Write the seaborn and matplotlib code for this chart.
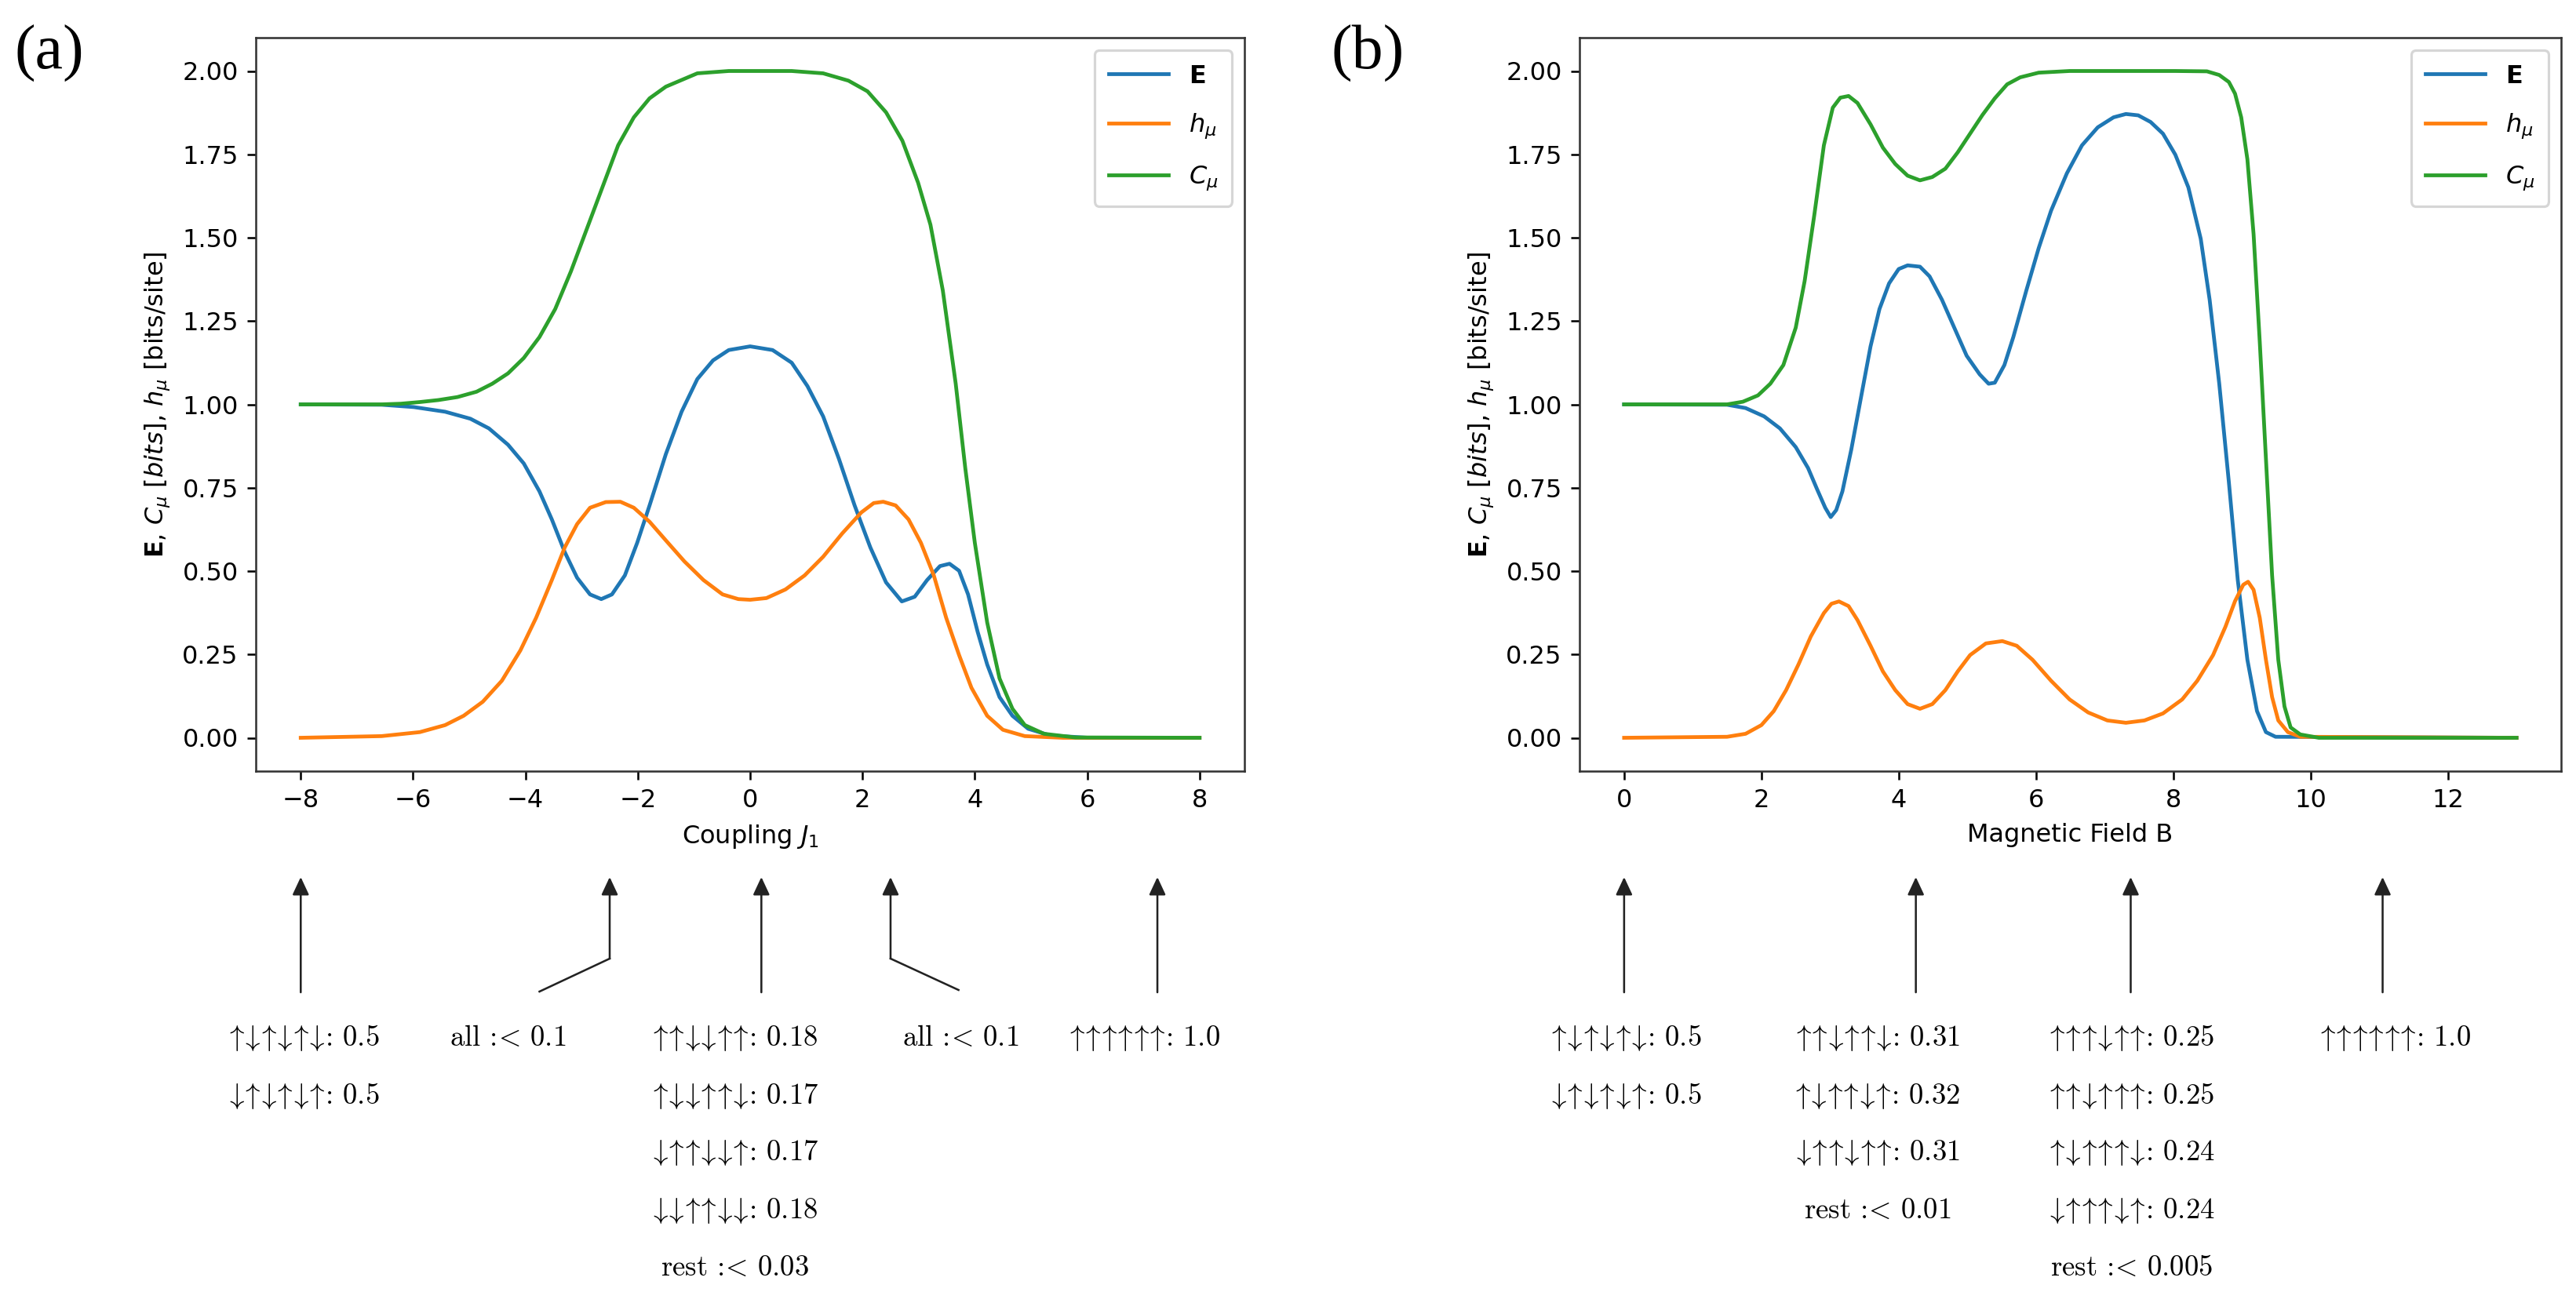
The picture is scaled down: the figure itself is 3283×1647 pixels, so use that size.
import numpy as np
import pandas as pd
import matplotlib
matplotlib.use("Agg")
import matplotlib.pyplot as plt
import seaborn as sns
from matplotlib import transforms
from matplotlib.patches import FancyArrowPatch
from matplotlib.lines import Line2D

# ---------------- data: panel (a) vs coupling J1 ----------------
a_C_x = [-8, -7.12, -6.56, -6.22, -5.88, -5.55, -5.21, -4.87, -4.59, -4.31, -4.03, -3.75, -3.47,
         -3.19, -2.91, -2.63, -2.35, -2.07, -1.79, -1.50, -0.94, -0.38, 0, 0.74, 1.30, 1.75, 2.09,
         2.42, 2.71, 2.99, 3.21, 3.43, 3.66, 3.83, 4.00, 4.22, 4.44, 4.67, 4.89, 5.23, 5.79, 8]
a_C_y = [1.0, 1.0, 1.0, 1.002, 1.007, 1.013, 1.022, 1.038, 1.062, 1.093, 1.139, 1.202, 1.286,
         1.399, 1.525, 1.651, 1.777, 1.861, 1.918, 1.953, 1.993, 2.0, 2.0, 2.0, 1.993, 1.971,
         1.939, 1.876, 1.791, 1.665, 1.539, 1.342, 1.062, 0.809, 0.585, 0.346, 0.178, 0.087,
         0.038, 0.012, 0.001, 0.0]

a_E_x = [-8, -6.56, -5.99, -5.43, -4.98, -4.65, -4.31, -4.03, -3.75, -3.53, -3.30, -3.08, -2.85,
         -2.65, -2.46, -2.23, -2.01, -1.79, -1.50, -1.22, -0.94, -0.66, -0.38, 0, 0.40, 0.74,
         1.02, 1.30, 1.58, 1.86, 2.14, 2.42, 2.70, 2.93, 3.15, 3.38, 3.55, 3.72, 3.88, 4.05, 4.22,
         4.44, 4.67, 4.95, 5.34, 6.02, 8]
a_E_y = [1.0, 0.999, 0.992, 0.978, 0.957, 0.928, 0.879, 0.823, 0.739, 0.655, 0.557, 0.480, 0.430,
         0.416, 0.430, 0.487, 0.585, 0.697, 0.851, 0.978, 1.076, 1.132, 1.163, 1.174, 1.163, 1.125,
         1.055, 0.964, 0.837, 0.697, 0.571, 0.466, 0.409, 0.423, 0.473, 0.515, 0.522, 0.501, 0.430,
         0.318, 0.220, 0.122, 0.066, 0.027, 0.007, 0.0, 0.0]

a_h_x = [-8, -6.56, -5.88, -5.43, -5.10, -4.76, -4.42, -4.09, -3.81, -3.53, -3.30, -3.08, -2.85,
         -2.57, -2.31, -2.07, -1.79, -1.50, -1.17, -0.83, -0.49, -0.21, 0, 0.29, 0.63, 0.97, 1.30,
         1.64, 1.98, 2.20, 2.37, 2.59, 2.82, 3.04, 3.27, 3.49, 3.72, 3.94, 4.22, 4.50, 4.89, 5.57, 8]
a_h_y = [0.0, 0.005, 0.017, 0.038, 0.066, 0.108, 0.171, 0.262, 0.360, 0.473, 0.571, 0.641, 0.690,
         0.707, 0.708, 0.690, 0.648, 0.592, 0.529, 0.473, 0.430, 0.416, 0.414, 0.419, 0.445, 0.487,
         0.543, 0.613, 0.676, 0.704, 0.708, 0.697, 0.655, 0.585, 0.487, 0.360, 0.248, 0.150, 0.066,
         0.024, 0.005, 0.0, 0.0]

# ---------------- data: panel (b) vs magnetic field B ----------------
b_C_x = [0, 1.50, 1.73, 1.95, 2.13, 2.32, 2.50, 2.63, 2.77, 2.91, 3.04, 3.15, 3.27, 3.40, 3.59,
         3.77, 3.95, 4.13, 4.31, 4.49, 4.68, 4.86, 5.04, 5.22, 5.40, 5.58, 5.77, 6.04, 6.49, 8.03,
         8.49, 8.67, 8.81, 8.90, 8.99, 9.08, 9.17, 9.26, 9.35, 9.44, 9.53, 9.62, 9.71, 9.85, 10.12,
         13]
b_C_y = [1.0, 1.0, 1.008, 1.027, 1.062, 1.118, 1.230, 1.370, 1.567, 1.777, 1.890, 1.920, 1.925,
         1.904, 1.840, 1.770, 1.721, 1.686, 1.672, 1.682, 1.707, 1.756, 1.812, 1.868, 1.918, 1.960,
         1.981, 1.995, 2.0, 2.0, 1.999, 1.988, 1.967, 1.932, 1.861, 1.735, 1.511, 1.188, 0.837,
         0.487, 0.234, 0.094, 0.031, 0.010, 0.0, 0.0]

b_E_x = [0, 1.50, 1.77, 2.04, 2.27, 2.50, 2.68, 2.81, 2.93, 3.01, 3.09, 3.18, 3.31, 3.45, 3.59,
         3.72, 3.86, 4.00, 4.13, 4.31, 4.45, 4.63, 4.81, 4.99, 5.18, 5.31, 5.40, 5.54, 5.67, 5.86,
         6.04, 6.22, 6.45, 6.67, 6.90, 7.13, 7.31, 7.49, 7.67, 7.85, 8.03, 8.22, 8.40, 8.53, 8.67,
         8.81, 8.94, 9.08, 9.22, 9.35, 9.49, 13]
b_E_y = [1.0, 0.999, 0.989, 0.964, 0.928, 0.872, 0.809, 0.746, 0.690, 0.662, 0.683, 0.739, 0.865,
         1.020, 1.174, 1.286, 1.363, 1.406, 1.417, 1.413, 1.384, 1.314, 1.230, 1.146, 1.090, 1.062,
         1.065, 1.118, 1.202, 1.342, 1.469, 1.581, 1.693, 1.777, 1.831, 1.861, 1.871, 1.867, 1.847,
         1.812, 1.749, 1.651, 1.497, 1.314, 1.062, 0.767, 0.473, 0.234, 0.080, 0.017, 0.003, 0.0]

b_h_x = [0, 1.50, 1.77, 2.00, 2.18, 2.36, 2.54, 2.72, 2.91, 3.02, 3.13, 3.27, 3.40, 3.59, 3.77,
         3.95, 4.13, 4.31, 4.49, 4.68, 4.86, 5.04, 5.27, 5.51, 5.72, 5.95, 6.22, 6.49, 6.76, 7.04,
         7.31, 7.58, 7.85, 8.13, 8.35, 8.58, 8.76, 8.90, 9.02, 9.09, 9.17, 9.26, 9.35, 9.44, 9.53,
         9.67, 9.85, 13]
b_h_y = [0.0, 0.003, 0.012, 0.038, 0.080, 0.143, 0.220, 0.304, 0.374, 0.402, 0.409, 0.395, 0.353,
         0.276, 0.199, 0.143, 0.101, 0.087, 0.101, 0.143, 0.199, 0.248, 0.283, 0.290, 0.276, 0.234,
         0.171, 0.115, 0.076, 0.052, 0.045, 0.052, 0.073, 0.115, 0.171, 0.248, 0.333, 0.410, 0.459,
         0.468, 0.444, 0.360, 0.234, 0.122, 0.052, 0.017, 0.003, 0.0]

series_labels = [r'$\mathbf{E}$', r'$h_\mu$', r'$C_\mu$']
series_colors = ['#1f77b4', '#ff7f0e', '#2ca02c']

# ---------------- annotations (configuration probabilities) ----------------
a_arrow_x = [-8.0, -2.5, 0.2, 2.5, 7.25]
a_text_x = [-7.94, -4.31, -0.27, 3.75, 7.02]
a_texts = [
    [("UDUDUD", "0.5"), ("DUDUDU", "0.5")],
    [("all", "0.1")],
    [("UUDDUU", "0.18"), ("UDDUUD", "0.17"), ("DUUDDU", "0.17"), ("DDUUDD", "0.18"), ("rest", "0.03")],
    [("all", "0.1")],
    [("UUUUUU", "1.0")],
]
b_arrow_x = [0.0, 4.25, 7.38, 11.05]
b_text_x = [0.03, 3.69, 7.39, 11.23]
b_texts = [
    [("UDUDUD", "0.5"), ("DUDUDU", "0.5")],
    [("UUDUUD", "0.31"), ("UDUUDU", "0.32"), ("DUUDUU", "0.31"), ("rest", "0.01")],
    [("UUUDUU", "0.25"), ("UUDUUU", "0.25"), ("UDUUUD", "0.24"), ("DUUUDU", "0.24"), ("rest", "0.005")],
    [("UUUUUU", "1.0")],
]


def fmt(entry):
    key, val = entry
    if key in ("all", "rest"):
        return key + r' :$\!<\,$' + val
    arrows = r'\!\!'.join(r'\uparrow' if c == "U" else r'\downarrow' for c in key)
    return r"$\!" + arrows + r"\!$: " + val


# ---------------- figure ----------------
DPI = 230
W, H = 3283, 1647
fig = plt.figure(figsize=(W / DPI, H / DPI), dpi=DPI)
plt.rcParams['font.family'] = ['DejaVu Sans']


def fy(p):
    return 1 - p / H


ax_a = fig.add_axes([326 / W, fy(983), (1586 - 326) / W, (983 - 48) / H])
ax_b = fig.add_axes([2013 / W, fy(983), (3264 - 2013) / W, (983 - 48) / H])

panel_data = [
    (ax_a, [(a_E_x, a_E_y), (a_h_x, a_h_y), (a_C_x, a_C_y)], r'Coupling $J_1$'),
    (ax_b, [(b_E_x, b_E_y), (b_h_x, b_h_y), (b_C_x, b_C_y)], 'Magnetic Field B'),
]

for ax, series, xlabel in panel_data:
    for (xs, ys), lab, col in zip(series, series_labels, series_colors):
        df = pd.DataFrame({'x': xs, 'y': ys})
        sns.lineplot(data=df, x='x', y='y', ax=ax, color=col, label=lab, linewidth=1.5)
    ax.set_ylim(-0.1, 2.1)
    ax.set_yticks(np.arange(0, 2.01, 0.25))
    ax.yaxis.set_major_formatter(matplotlib.ticker.FormatStrFormatter('%.2f'))
    ax.set_xlabel(xlabel)
    ax.set_ylabel(r'$\mathbf{E}$, $C_\mu$ $[bits]$, $h_\mu$ [bits/site]')
    ax.legend(loc='upper right', labelspacing=0.95, handlelength=2.4, borderpad=0.55)
    for s in ax.spines.values():
        s.set_color('#333333')

ax_a.set_xlim(-8.8, 8.8)
ax_a.set_xticks(np.arange(-8, 9, 2))
ax_b.set_xlim(-0.65, 13.65)
ax_b.set_xticks(np.arange(0, 13, 2))

# panel labels
fig.text(18 / W, fy(68), '(a)', fontsize=25, family='Liberation Serif', va='center', ha='left')
fig.text(1697 / W, fy(68), '(b)', fontsize=25, family='Liberation Serif', va='center', ha='left')

row_px = [1323, 1397, 1470, 1543, 1616]
arrow_color = '#222222'
arrow_style = '-|>,head_length=0.6,head_width=0.28'
TIP_PX, TAIL_PX = 1118, 1265


def draw_annotations(ax, arrow_x, text_x, texts, bends):
    trans = transforms.blended_transform_factory(ax.transData, fig.transFigure)
    for i, x in enumerate(arrow_x):
        start_px = bends[i][0] if i in bends else TAIL_PX
        arr = FancyArrowPatch((x, fy(start_px)), (x, fy(TIP_PX)), transform=trans,
                              arrowstyle=arrow_style, mutation_scale=32 * 72 / DPI,
                              color=arrow_color, lw=0.8, shrinkA=0, shrinkB=0)
        fig.add_artist(arr)
        if i in bends:
            bend_px, end_x, end_px = bends[i]
            ln = Line2D([x, end_x], [fy(bend_px), fy(end_px)], transform=trans,
                        color=arrow_color, lw=0.8)
            fig.add_artist(ln)
    for tx, col in zip(text_x, texts):
        for r, entry in enumerate(col):
            fig.text(tx, fy(row_px[r]), fmt(entry), transform=trans, ha='center', va='center',
                     fontsize=11.5, family='cmr10', math_fontfamily='cm')


draw_annotations(ax_a, a_arrow_x, a_text_x, a_texts,
                 {1: (1222, -3.75, 1264), 3: (1222, 3.71, 1262)})
draw_annotations(ax_b, b_arrow_x, b_text_x, b_texts, {})

fig.savefig('out.png', dpi=DPI)
